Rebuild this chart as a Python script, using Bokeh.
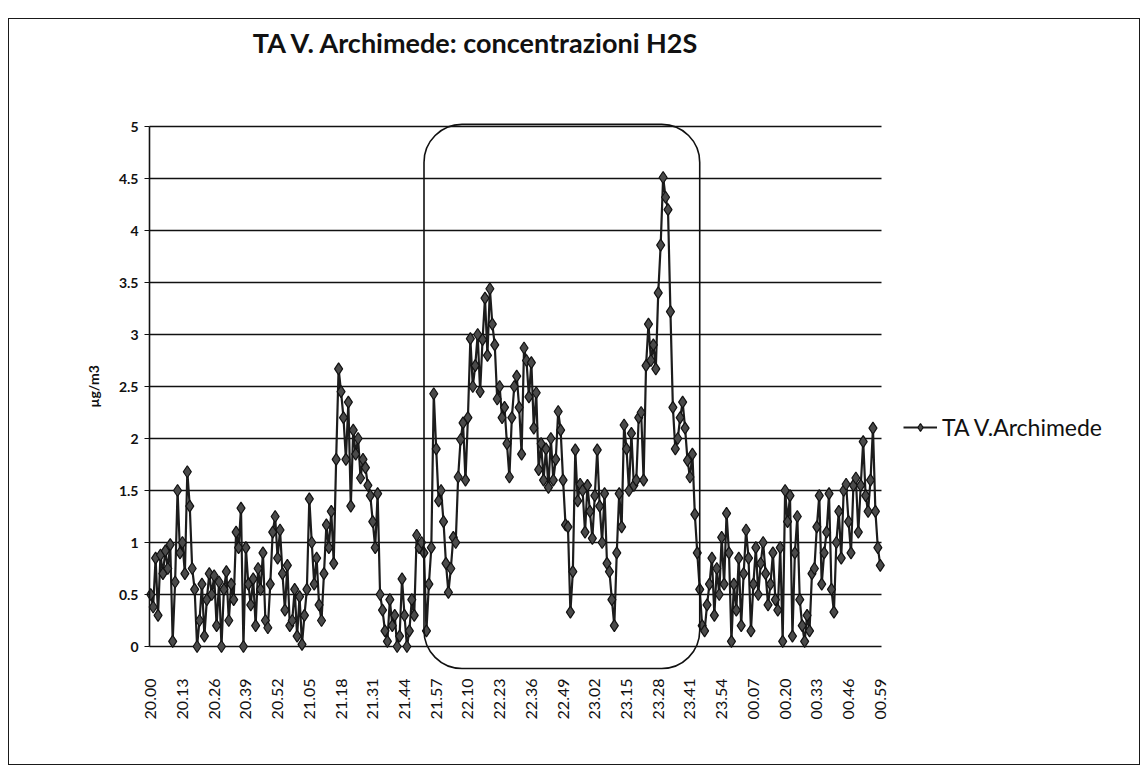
import math
from bokeh.plotting import figure
from bokeh.models import (Range1d, FixedTicker, CustomJSTickFormatter, BoxAnnotation,
                          Legend, LegendItem, ColumnDataSource, Label)
from bokeh.embed import file_html
from bokeh.resources import INLINE

# H2S concentration (µg/m3), one value per minute from 20:00 to 00:59
part_01 = [0.5, 0.38, 0.85, 0.3, 0.88, 0.7, 0.92, 0.75, 0.98, 0.05, 0.62, 1.5, 0.9]
part_02 = [1.0, 0.7, 1.68, 1.35, 0.75, 0.55, 0.0, 0.25, 0.6, 0.1, 0.45, 0.7]
part_03 = [0.5, 0.68, 0.2, 0.62, 0.0, 0.55, 0.72, 0.25, 0.6, 0.45, 1.1, 0.95, 1.33]
part_04 = [0.0, 0.95, 0.6, 0.4, 0.65, 0.2, 0.75, 0.55, 0.9, 0.25, 0.18, 0.6, 1.1]
part_05 = [1.25, 0.85, 1.12, 0.7, 0.35, 0.78, 0.2, 0.25, 0.55, 0.1, 0.48, 0.02]
part_06 = [0.3, 0.55, 1.42, 1.0, 0.6, 0.85, 0.4, 0.25, 0.7, 1.17, 0.95, 1.3, 0.8]
part_07 = [1.8, 2.67, 2.45, 2.2, 1.8, 2.35, 1.35, 2.08, 1.85, 2.0, 1.62, 1.8, 1.72]
part_08 = [1.55, 1.45, 1.2, 0.95, 1.47, 0.5, 0.35, 0.15, 0.05, 0.45, 0.2, 0.3]
part_09 = [0.0, 0.1, 0.65, 0.3, 0.0, 0.15, 0.45, 0.3, 1.07, 0.95, 1.0, 0.9, 0.15]
part_10 = [0.6, 0.95, 2.43, 1.9, 1.4, 1.5, 1.2, 0.8, 0.52, 0.75, 1.05, 1.0]
part_11 = [1.63, 1.99, 2.15, 1.6, 2.2, 2.96, 2.5, 2.7, 3.0, 2.45, 2.95]
part_12 = [3.35, 2.8, 3.44, 3.1, 2.9, 2.38, 2.5, 2.2, 2.3, 1.95, 1.63, 2.2, 2.5]
part_13 = [2.6, 2.3, 1.85, 2.87, 2.75, 2.4, 2.73, 2.1, 2.44, 1.7, 1.95, 1.6, 1.9]
part_14 = [1.53, 2.0, 1.6, 1.8, 2.26, 2.08, 1.6, 1.17, 1.15, 0.33, 0.72, 1.89]
part_15 = [1.4, 1.56, 1.5, 1.1, 1.55, 1.3, 1.04, 1.45, 1.89, 1.35, 1.0, 1.47, 0.8]
part_16 = [0.72, 0.45, 0.2, 0.9, 1.47, 1.15, 2.13, 1.9, 1.5, 2.05, 1.55, 1.6, 2.2]
part_17 = [2.25, 1.6, 2.7, 3.1, 2.75, 2.9, 2.67, 3.4, 3.86, 4.51, 4.32, 4.2]
part_18 = [3.22, 2.3, 1.9, 2.0, 2.2, 2.35, 2.1, 1.79, 1.63, 1.85, 1.27, 0.9, 0.55]
part_19 = [0.2, 0.15, 0.4, 0.6, 0.85, 0.3, 0.75, 0.5, 1.05, 0.6, 1.28, 0.9, 0.05, 0.6]
part_20 = [0.35, 0.85, 0.2, 0.7, 1.12, 0.85, 0.15, 0.6, 0.95, 0.5, 0.8, 1.0, 0.7]
part_21 = [0.4, 0.6, 0.9, 0.45, 0.35, 0.95, 0.05, 1.5, 1.2, 1.45, 0.1, 0.9, 1.25]
part_22 = [0.45, 0.2, 0.05, 0.3, 0.15, 0.7, 0.75, 1.15, 1.45, 0.6, 0.9, 1.1, 1.47]
part_23 = [0.55, 0.33, 1.0, 1.3, 0.85, 1.5, 1.56, 1.2, 0.9, 1.55, 1.62, 1.1]
part_24 = [1.55, 1.97, 1.45, 1.3, 1.6, 2.1, 1.3, 0.95, 0.78]

values = (part_01 + part_02 + part_03 + part_04 + part_05 + part_06 + part_07 + part_08 +
          part_09 + part_10 + part_11 + part_12 + part_13 + part_14 + part_15 + part_16 +
          part_17 + part_18 + part_19 + part_20 + part_21 + part_22 + part_23 + part_24)

tick_labels = ["20.00", "20.13", "20.26", "20.39", "20.52", "21.05", "21.18", "21.31",
               "21.44", "21.57", "22.10", "22.23", "22.36", "22.49", "23.02", "23.15",
               "23.28", "23.41", "23.54", "00.07", "00.20", "00.33", "00.46", "00.59"]
y_ticks = [0, 0.5, 1, 1.5, 2, 2.5, 3, 3.5, 4, 4.5, 5]

series_name = "TA V.Archimede"
title_text = "TA V. Archimede: concentrazioni H2S"
y_label = "µg/m3"
highlight_start, highlight_end = "21.52", "23.45"   # boxed time window

start_min = 20 * 60
n = len(values)
times = [f"{((start_min + i) // 60) % 24:02d}.{(start_min + i) % 60:02d}" for i in range(n)]
idx = list(range(n))
tick_pos = [times.index(t) for t in tick_labels]
y_top = y_ticks[-1]

# ---- layout (pixels) ----
FIG_W, FIG_H = 1132, 747
B_LEFT, B_RIGHT, B_TOP, B_BOTTOM = 2, 2, 2, 13
AXIS_X = 138            # y axis position from frame left
DATA_W = 732            # width of the gridded data area
PX_Y = 104              # pixels per µg/m3
ABOVE_TOP = 105         # frame space above the top gridline (title lives here)
BOX_BELOW = 22          # box bottom edge below the zero line
px_x = DATA_W / n
frame_w = FIG_W - B_LEFT - B_RIGHT
frame_h = FIG_H - B_TOP - B_BOTTOM
data_lo = -0.5
data_hi = n - 0.5
x_lo = data_lo - AXIS_X / px_x
x_hi = x_lo + frame_w / px_x
y_hi = y_top + ABOVE_TOP / PX_Y
y_lo = y_hi - frame_h / PX_Y
box_bottom = -BOX_BELOW / PX_Y

src = ColumnDataSource(dict(x=idx, y=values, t=times))

p = figure(width=FIG_W, height=FIG_H, x_range=Range1d(x_lo, x_hi), y_range=Range1d(y_lo, y_hi),
           output_backend="svg", toolbar_location=None,
           min_border_left=B_LEFT, min_border_right=B_RIGHT,
           min_border_top=B_TOP, min_border_bottom=B_BOTTOM,
           margin=(18, 0, 0, 8))
p.styles = {"border": "1.5px solid #1a1a1a", "box-sizing": "border-box"}
p.outline_line_color = None
p.background_fill_color = "white"
p.border_fill_color = "white"
p.grid.visible = False

# horizontal gridlines limited to the data area
p.segment(x0=[data_lo] * len(y_ticks), y0=y_ticks, x1=[data_hi] * len(y_ticks), y1=y_ticks,
          line_color="#111111", line_width=1.4)

yax = p.yaxis[0]
yax.fixed_location = data_lo
yax.ticker = FixedTicker(ticks=y_ticks)
yax.bounds = (0, y_top)
yax.formatter = CustomJSTickFormatter(code="return tick.toString()")
yax.axis_line_color = "#111111"
yax.axis_line_width = 1.6
yax.major_tick_out = 5
yax.major_tick_in = 0
yax.minor_tick_out = 0
yax.major_tick_line_color = "#111111"
yax.major_label_text_font = "Lato"
yax.major_label_text_font_size = "14px"
yax.major_label_text_font_style = "bold"
yax.major_label_text_color = "#111111"
yax.major_label_standoff = 6
yax.axis_label = y_label
yax.axis_label_text_font = "Lato"
yax.axis_label_text_font_size = "14px"
yax.axis_label_text_font_style = "bold"
yax.axis_label_text_color = "#111111"
yax.axis_label_standoff = 14

xax = p.xaxis[0]
xax.fixed_location = box_bottom
xax.ticker = FixedTicker(ticks=tick_pos)
xax.major_label_overrides = {pos: lab for pos, lab in zip(tick_pos, tick_labels)}
xax.major_label_orientation = math.pi / 2
xax.axis_line_color = None
xax.major_tick_line_color = None
xax.minor_tick_line_color = None
xax.major_label_text_font = "Lato"
xax.major_label_text_font_size = "16px"
xax.major_label_text_color = "#111111"
xax.major_label_standoff = 4

line_r = p.line("x", "y", source=src, line_color="#1c1c1c", line_width=2.2)
mark_r = p.scatter("x", "y", source=src, marker="diamond", size=12,
                   fill_color="#4a4a4a", line_color="#111111", line_width=1.2)

box = BoxAnnotation(left=times.index(highlight_start), right=times.index(highlight_end),
                    bottom=box_bottom, top=y_top + 0.02, fill_alpha=0, line_color="#111111",
                    line_alpha=1.0, line_width=1.6, border_radius=38)
p.add_layout(box)

# chart title, centred a little left of the data area
title_x = (475 - 148) / px_x + data_lo
title_y = y_top + (125 - 41) / PX_Y
p.add_layout(Label(x=title_x, y=title_y, text=title_text, text_align="center",
                   text_baseline="middle", text_font="Lato", text_font_size="27px",
                   text_font_style="bold", text_color="#111111"))

legend = Legend(items=[LegendItem(label=series_name, renderers=[line_r, mark_r])],
                location=(AXIS_X + DATA_W + 22, 312),
                border_line_color=None, background_fill_alpha=0,
                label_text_font="Lato", label_text_font_size="23px",
                label_text_color="#111111", glyph_width=34, padding=0, margin=0)
p.add_layout(legend)

open("out.html", "w").write(file_html(p, INLINE))
